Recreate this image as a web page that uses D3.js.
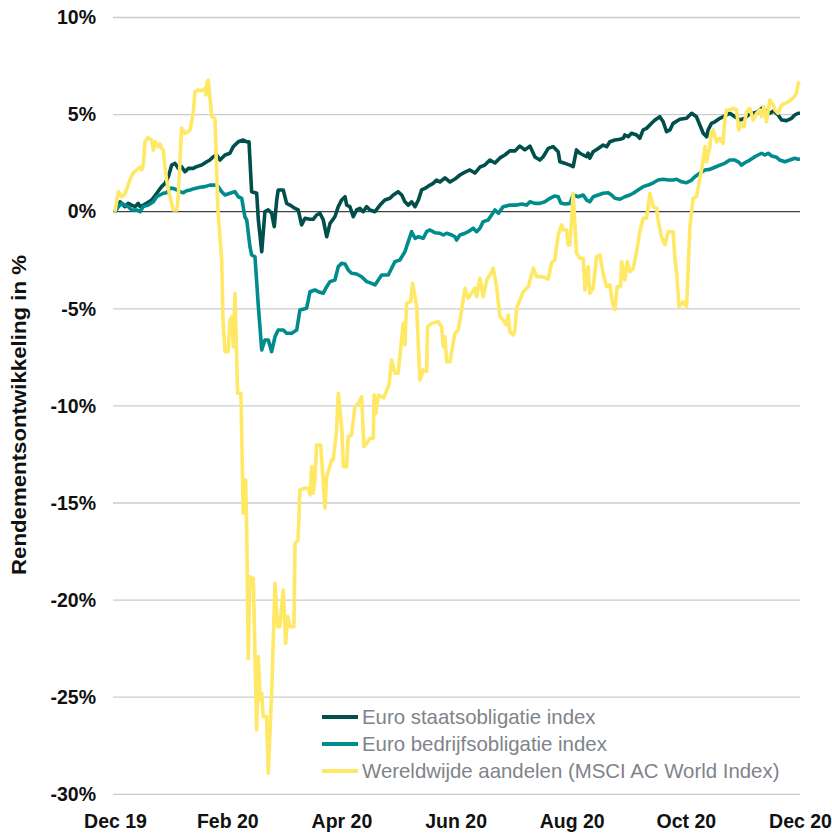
<!DOCTYPE html>
<html>
<head>
<meta charset="utf-8">
<script src="https://cdn.jsdelivr.net/npm/d3@7"></script>
<style>
  body { margin: 0; background: #fff; }
  svg { display: block; font-family: "Liberation Sans", Arial, sans-serif; }
</style>
</head>
<body>
<svg id="chart" width="832" height="835"></svg>
<script>
// days since 31 Dec 2019, return in %
const startDate = new Date(2019, 11, 31);

const staatsData = [
  [0,0],[2.7,0.51],[5.3,0.26],[7.1,0.43],[8.9,0.34],[10.7,0.26],[12.4,0.43],[13.4,0.26],[15.1,0.34],
  [16.9,0.43],[19.6,0.6],[22.3,0.95],[24.9,1.29],[26.7,1.46],[28.5,1.8],[30.3,2.4],[32.1,2.49],
  [33.8,2.23],[35.6,2.32],[37.4,2.06],[39.2,2.23],[41.8,2.23],[43.6,2.32],[46.3,2.4],[49,2.57],
  [50.7,2.66],[52.5,2.83],[54.3,2.92],[56.1,2.66],[58.8,2.92],[61.4,3.01],[63.2,3.35],[65.9,3.6],
  [68.5,3.69],[70.4,3.6],[71.6,3.6],[73,1.03],[75.7,0.95],[76.6,-0.43],[78.4,-2.06],[80.1,0],
  [81.9,0.09],[83.7,-0.08],[85.1,-0.77],[86.4,0.6],[87.2,1.12],[89.9,1.12],[91.7,0.43],[93.5,0.34],
  [96.2,0.17],[97.9,0.09],[99.7,-0.68],[101.5,-0.34],[104.2,-0.39],[105.9,-0.39],[107.7,-0.17],
  [109.5,-0.08],[111.3,-0.43],[113.1,-1.29],[114.9,-0.6],[117.5,-0.26],[119.3,0.26],[121.1,0.6],
  [122.9,0.77],[123.8,0.34],[125.5,0.26],[127.3,-0.26],[129.1,0.09],[130.9,0.17],[132.6,0],
  [134.5,0.26],[136.2,0.09],[138.9,0],[141.6,0.34],[144.2,0.6],[146.9,0.69],[148.7,0.86],
  [151.3,1.03],[153.2,0.86],[154.9,0.51],[156.7,0.34],[158.5,0.51],[160.3,0.26],[162.1,0.6],
  [163.8,1.12],[165.6,1.2],[168.3,1.37],[170,1.46],[171.8,1.63],[173.6,1.53],[176.3,1.74],
  [179,1.53],[181.6,1.68],[184.3,1.89],[187,2.04],[189.6,2.15],[192.3,1.99],[195,2.3],[197.6,2.4],
  [200.3,2.66],[203,2.51],[205.7,2.77],[208.3,2.92],[211,3.13],[213.7,3.13],[216.3,3.38],
  [219,3.18],[221.7,3.38],[224.4,2.82],[227,2.66],[228.8,2.83],[231.5,3.26],[234.1,3.35],
  [236.8,3.09],[237.7,2.57],[240.4,2.49],[243.1,2.4],[244.8,2.32],[246.6,3.18],[248.4,3.01],
  [250.2,2.92],[252,2.83],[252.8,3.02],[253.7,2.75],[255.5,3.09],[258.2,3.26],[260.8,3.43],
  [262.7,3.35],[264.4,3.6],[267.1,3.69],[269.8,3.73],[271.6,3.78],[272.4,3.95],[274.2,3.86],
  [276,4.04],[278.7,3.95],[280.4,3.78],[282.2,4.21],[284,4.29],[286.7,4.55],[288.5,4.72],
  [291.1,4.89],[292.9,4.63],[294.7,4.12],[296.5,4.21],[298.2,4.55],[301.8,4.76],[305.4,4.81],
  [308.1,5.07],[310.7,4.89],[312.5,4.46],[314.3,4.04],[316.1,3.86],[316.9,4.21],[318.7,4.55],
  [320.5,4.63],[323.2,4.81],[325.8,4.93],[328.5,5.07],[331.2,4.89],[333.9,4.72],[336.5,4.81],
  [338.3,4.98],[341,5.07],[343.6,5.15],[345.5,5.32],[347.2,5.24],[349.9,5.07],[352,5.19],
  [354.3,4.98],[356.2,4.72],[358.8,4.69],[361.5,4.81],[363.2,4.98],[365,5.07],[366,5.07]
];

const bedrijfsData = [
  [0,0],[1.8,0.26],[3.6,0.43],[5.3,0.34],[7.1,0.26],[8.9,0.09],[11.6,0.09],[13.4,0],[15.1,0.26],
  [17.8,0.34],[20.5,0.51],[22.3,0.77],[24,0.86],[25.8,0.95],[27.6,0.98],[29.4,1.2],[31.1,1.2],
  [33,1.12],[34.7,1.03],[36.5,0.98],[38.3,1.08],[40.1,1.12],[42.7,1.2],[45.4,1.26],[48.1,1.29],
  [50.7,1.37],[53.4,1.37],[55.2,1.29],[57,1.03],[58.8,0.86],[61.4,0.95],[64.1,1.03],[65.9,0.77],
  [67.7,0.69],[69.4,-0.26],[70.4,-0.43],[72.1,-1.8],[73,-2.23],[74.8,-2.32],[76.6,-4.89],
  [78.4,-7.12],[80.1,-6.61],[81.9,-6.61],[83.7,-7.21],[85.5,-6.44],[87.2,-6.09],[89.9,-6.09],
  [91.7,-6.26],[94.4,-6.26],[97.1,-6.09],[98.8,-5.06],[102.4,-4.97],[104.2,-4.12],[106.8,-4.03],
  [108.6,-4.12],[111.3,-4.2],[113.1,-3.86],[114.9,-3.6],[117.5,-3.52],[119.3,-2.83],[121.1,-2.66],
  [122.9,-2.69],[124.6,-3],[126.4,-3.17],[129.1,-3.21],[131.8,-3.35],[134.5,-3.6],[137.1,-3.69],
  [138.9,-3.77],[140.7,-3.52],[142.5,-3.26],[146,-3.26],[147.8,-2.91],[149.6,-2.57],[152.2,-2.49],
  [154.9,-2.06],[156.7,-1.54],[158.5,-1.03],[160.3,-1.37],[162.1,-1.29],[164.7,-1.37],[166.5,-1.03],
  [168.3,-0.94],[170.9,-1.08],[173.6,-1.11],[175.4,-1.2],[177.2,-1.11],[179.9,-1.2],[181.6,-1.29],
  [182.5,-1.46],[184.3,-1.2],[187,-1.11],[188.7,-1.03],[191.4,-0.85],[193.2,-1.03],[195,-0.85],
  [196.7,-0.51],[199.4,-0.43],[201.2,-0.17],[203,0.09],[204.9,-0.08],[207.4,0.26],[211,0.34],
  [214.6,0.34],[217.3,0.4],[219.9,0.34],[221.7,0.51],[224.4,0.43],[227,0.43],[229.7,0.51],
  [232.4,0.69],[235,0.81],[236.8,0.77],[238.2,0.45],[240.4,0.4],[243.1,0.43],[244.8,0.86],
  [247.5,0.77],[250.2,0.86],[252,0.6],[253.7,0.51],[255.5,0.77],[258.2,0.86],[260.8,0.95],
  [263.5,0.98],[265.3,0.86],[267.1,0.69],[269.8,0.64],[272.4,0.77],[275.1,0.86],[276.9,0.95],
  [279.5,1.12],[282.2,1.29],[284.9,1.37],[287.6,1.49],[290.2,1.63],[292.9,1.67],[295.6,1.63],
  [298.2,1.63],[300.1,1.67],[302.7,1.54],[305.4,1.49],[308.1,1.63],[309.8,1.8],[312.5,1.98],
  [315.2,2.15],[317.8,2.18],[320.5,2.29],[323.2,2.4],[325.8,2.49],[328.5,2.66],[331.2,2.66],
  [333,2.57],[334.8,2.4],[336.5,2.52],[339.2,2.66],[341.9,2.83],[343.6,2.92],[345.5,3.01],
  [347.2,2.92],[349,3.01],[350.8,2.87],[353.5,2.8],[355.2,2.66],[357.9,2.57],[360.6,2.66],
  [363.2,2.75],[365,2.7],[366,2.71]
];

const aandelenData = [
  [0,0],[1.8,1.03],[3.6,0.77],[5.3,0.91],[8,1.63],[9.6,1.99],[11.6,2.15],[13.4,2.3],[14.3,2.15],
  [15.1,2.4],[16,3.6],[17.6,3.8],[19.6,3.69],[20.5,3.18],[21.4,3.6],[23.1,3.35],[24,3.49],
  [24.9,3.26],[25.8,3.18],[26.7,2.32],[27.6,1.63],[29.4,0.77],[31.1,0.09],[33,0.09],[33.8,0.77],
  [35.6,4.31],[37.4,4.04],[39.2,4.12],[40.1,4.21],[41.8,5.07],[42.7,6.18],[44.5,6.27],[46.3,6.23],
  [48.1,6.35],[48.6,6.01],[49,6.63],[49.8,6.78],[50.7,5.92],[51.7,4.89],[53.4,4.81],[55,0.09],
  [57,-2.49],[57.7,-5.58],[58.8,-7.21],[60.5,-7.21],[61.4,-5.58],[62.6,-5.41],[63.2,-6.95],
  [64.1,-4.2],[65.5,-9.35],[67.3,-9.35],[68.5,-15.53],[69.8,-13.82],[70.4,-16.56],[71.2,-23],
  [72.1,-18.8],[73.9,-18.88],[75.7,-26.69],[76.6,-22.91],[77.5,-25.14],[78.4,-24.8],[79.2,-26],
  [81,-26],[81.9,-28.92],[83.7,-24.8],[85.5,-19.13],[86.9,-21.37],[88.1,-21.37],[89.9,-19.48],
  [91.2,-22.22],[92.3,-20.85],[93.5,-21.37],[95.6,-21.37],[96.2,-17.08],[97.8,-16.91],
  [98.8,-14.33],[101.5,-14.24],[103.3,-14.24],[104.2,-14.59],[105.1,-13.13],[105.9,-14.5],
  [106.8,-13.82],[107.7,-12.01],[109.9,-12.01],[112.2,-15.27],[113.1,-13.65],[115.8,-12.79],
  [116.6,-12.79],[118.4,-11.24],[119.3,-9.35],[121.1,-11.07],[122,-13.13],[123.8,-13.13],
  [124.6,-11.59],[126.4,-11.5],[128.2,-10.04],[130,-9.87],[131.8,-9.53],[133,-12.1],[134.5,-11.93],
  [136.2,-11.67],[138,-11.67],[138.4,-9.44],[139.4,-10.38],[140.7,-9.44],[143.6,-9.59],
  [146.4,-8.9],[147.8,-7.64],[149.6,-8.32],[151.3,-8.32],[154,-5.75],[154.9,-6.86],[155.8,-4.72],
  [158,-4.63],[159,-3.69],[161.2,-4.89],[162.9,-8.67],[164.7,-8.15],[166.5,-8.24],[167,-5.92],
  [169.2,-5.75],[172.7,-5.66],[174.5,-5.92],[175.4,-6.95],[176.3,-6.44],[177.2,-7.72],[179,-7.72],
  [181.6,-6.26],[183.4,-6.09],[185.2,-5.06],[187,-3.94],[188.7,-4.46],[190.5,-4.2],[192.3,-3.94],
  [193.2,-4.38],[195,-3.43],[196.7,-4.38],[198.6,-3.52],[200.3,-3.26],[202.1,-2.91],[203.9,-3.86],
  [205.7,-5.41],[207.4,-5.58],[209.2,-5.83],[210.1,-5.32],[211,-6.18],[212.8,-6.35],[213.7,-6.09],
  [214.6,-4.97],[216.3,-4.55],[218.1,-4.12],[220.8,-3.86],[223.5,-2.91],[225.3,-3.35],
  [228.8,-3.35],[231.5,-3.47],[233.3,-2.62],[235,-2.49],[236.8,-1.2],[238.6,-0.68],[239.5,-0.94],
  [241.3,-0.94],[242.1,-1.71],[243.1,-1.71],[244.8,0.95],[246.6,-2.14],[248.4,-2.4],[250.2,-2.4],
  [251.1,-4.03],[252.8,-2.83],[253.7,-4.2],[255.5,-3.94],[257.3,-2.32],[259.1,-2.23],[260.8,-3.17],
  [262.7,-3.86],[264.4,-3.77],[265.9,-4.72],[267.1,-5.03],[268.3,-3.86],[270.1,-3.86],
  [270.7,-2.57],[272.4,-3.52],[273.7,-2.57],[275.1,-3.09],[276.9,-2.91],[278.7,-2.06],
  [280.4,-1.03],[282.2,-0.34],[284,-0.34],[284.9,0.26],[285.8,0.95],[287.6,0.26],[289.4,0.17],
  [290.2,-0.43],[292,-1.29],[293.8,-1.71],[295.6,-1.03],[298.2,-1.03],[299.1,-2.32],[300.1,-3.17],
  [301.4,-4.89],[303.6,-4.63],[305.4,-4.89],[307.2,-0.77],[308.9,0.69],[310.7,0.77],[313.4,2.15],
  [315.2,3.35],[316.1,2.57],[317.8,3.35],[318.7,4.04],[319.6,4.21],[321.4,3.6],[323.2,3.78],
  [324.9,3.52],[325.8,4.72],[326.8,5.24],[328.5,5.24],[330.3,5.32],[332.1,5.24],[333.3,4.21],
  [334.8,4.55],[336,4.38],[337.4,5.15],[339.2,5.32],[341,4.72],[342.8,5.07],[344.6,5.24],
  [345.5,4.89],[346.7,5.41],[348.1,4.63],[349.9,5.75],[351.7,5.49],[352.6,5.24],[354.3,5.07],
  [356.2,5.49],[357.9,5.58],[359.7,5.66],[362.3,5.84],[364.1,6.1],[365,6.61],[366,6.68]
];

const seriesNames = [
  "Euro staatsobligatie index",
  "Euro bedrijfsobligatie index",
  "Wereldwijde aandelen (MSCI AC World Index)"
];
const seriesColors = ["#004f4b", "#008b8d", "#ffe865"];
const yTicks = [10, 5, 0, -5, -10, -15, -20, -25, -30];
const xTickDates = ["2019-12-31", "2020-02-29", "2020-04-30", "2020-06-30", "2020-08-31", "2020-10-31", "2020-12-31"];
const xTickLabels = ["Dec 19", "Feb 20", "Apr 20", "Jun 20", "Aug 20", "Oct 20", "Dec 20"];

const svg = d3.select("#chart");
const plotLeft = 115, plotRight = 800, plotTop = 17.5, plotBottom = 794.3;

const dayToDate = d => new Date(startDate.getTime() + d * 864e5);

const x = d3.scaleTime()
  .domain([startDate, new Date(2020, 11, 31)])
  .range([plotLeft, plotRight]);
const y = d3.scaleLinear().domain([-30, 10]).range([plotBottom, plotTop]);

// gridlines
svg.append("g").selectAll("line")
  .data(yTicks.filter(t => t !== 0))
  .enter().append("line")
  .attr("x1", plotLeft - 2).attr("x2", plotRight)
  .attr("y1", d => y(d)).attr("y2", d => y(d))
  .attr("stroke", "#cccccc").attr("stroke-width", 1.3);

svg.append("line")
  .attr("x1", plotLeft - 2).attr("x2", plotRight)
  .attr("y1", y(0)).attr("y2", y(0))
  .attr("stroke", "#404040").attr("stroke-width", 1.3);

// y axis labels
const yAxis = svg.append("g")
  .attr("transform", `translate(${plotLeft - 2},0)`)
  .call(d3.axisLeft(y).tickValues(yTicks).tickFormat(d => d + "%").tickSize(0).tickPadding(17));
yAxis.select(".domain").remove();
yAxis.selectAll("text")
  .style("font-family", "Liberation Sans, Arial, sans-serif")
  .style("font-size", "19.5px").style("font-weight", "bold").attr("fill", "#111");

// x axis labels
const xAxis = svg.append("g")
  .attr("transform", `translate(0,${plotBottom})`)
  .call(d3.axisBottom(x)
    .tickValues(xTickDates.map(s => d3.timeParse("%Y-%m-%d")(s)))
    .tickFormat((d, i) => xTickLabels[i])
    .tickSize(0).tickPadding(20));
xAxis.select(".domain").remove();
xAxis.selectAll("text")
  .style("font-family", "Liberation Sans, Arial, sans-serif")
  .style("font-size", "19.5px").style("font-weight", "bold").attr("fill", "#111");

// axis title (a bit condensed, like the original)
svg.append("text")
  .attr("transform", "translate(26,415) rotate(-90)")
  .attr("text-anchor", "middle")
  .attr("textLength", 320).attr("lengthAdjust", "spacingAndGlyphs")
  .style("font-size", "21px").style("font-weight", "bold").attr("fill", "#111")
  .text("Rendementsontwikkeling in %");

// series
const line = d3.line()
  .x(d => x(dayToDate(d[0])))
  .y(d => y(d[1]));

[staatsData, bedrijfsData, aandelenData].forEach((data, i) => {
  svg.append("path")
    .datum(data)
    .attr("d", line)
    .attr("fill", "none")
    .attr("stroke", seriesColors[i])
    .attr("stroke-width", 3.6)
    .attr("stroke-linejoin", "round");
});

// legend
const legend = svg.append("g").attr("transform", "translate(322,717)");
seriesNames.forEach((name, i) => {
  const row = legend.append("g").attr("transform", `translate(0,${i * 27})`);
  row.append("line")
    .attr("x1", 0).attr("x2", 36)
    .attr("stroke", seriesColors[i]).attr("stroke-width", 4);
  row.append("text")
    .attr("x", 40).attr("y", 7)
    .style("font-size", "20.4px").attr("fill", "#80838a")
    .text(name);
});
</script>
</body>
</html>
